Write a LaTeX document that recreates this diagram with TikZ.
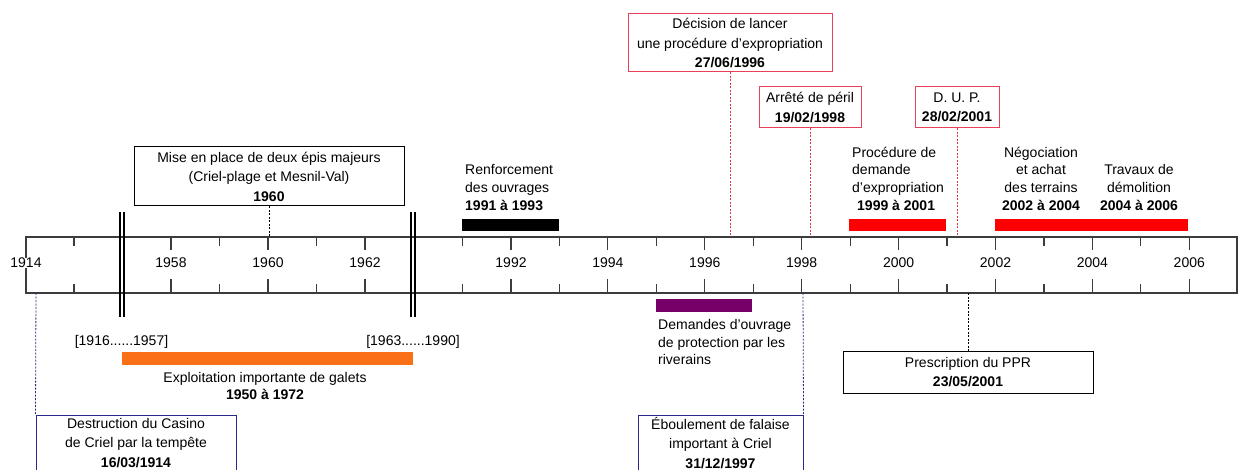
\documentclass[tikz,border=0pt]{standalone}
\usepackage{fontspec}
\setmainfont{Liberation Sans}
\usepackage{tikz}

\definecolor{boxred}{RGB}{232,64,88}
\definecolor{linered}{RGB}{230,50,70}
\definecolor{navy}{RGB}{40,40,140}
\definecolor{plum}{RGB}{118,0,104}
\definecolor{galet}{RGB}{250,112,22}
\definecolor{axisgray}{RGB}{60,60,60}

\tikzset{
  evt/.style={draw, line width=1pt, inner sep=0pt, align=center, font=\fontsize{14}{19.5}\selectfont},
  lbl/.style={inner sep=0pt, font=\fontsize{14}{17.7}\selectfont},
  yr/.style={fill=white, inner sep=0.5pt, font=\fontsize{14}{16}\selectfont},
  axis/.style={draw=axisgray, line width=1.2pt},
  link/.style={dash pattern=on 2pt off 1.5pt, line width=0.8pt},
  brk/.style={line width=2pt},
}

\begin{document}
\begin{tikzpicture}[x=1pt,y=-1pt]
    \useasboundingbox (0,0) rectangle (1238,470);

    % time axis
    \draw[axis] (26,237) rectangle (1237,293);
    \foreach \x in {74,219.5,316.5} {\draw[axis] (\x,237) -- (\x,246) (\x,284) -- (\x,293);}
    \foreach \x in {171,268,365} {\draw[axis] (\x,237) -- (\x,250) (\x,279) -- (\x,293);}
    \foreach \i in {0,...,15} {
        \pgfmathsetmacro\x{462.5+48.45*\i}
        \ifodd\i
            \draw[axis] (\x,237) -- (\x,250) (\x,279) -- (\x,293);
        \else
            \draw[axis] (\x,237) -- (\x,246) (\x,284) -- (\x,293);
        \fi
    }
    \node[yr] (y1914) at (26,263) {1914};
    \foreach \yr/\x in {1958/171,1960/268,1962/365} \node[yr] (y\yr) at (\x,263) {\yr};
    \foreach \yr [count=\k from 0] in {1992,1994,...,2006} \node[yr] (y\yr) at (511+96.9*\k,263) {\yr};

    % breaks
    \draw[brk] (120,212) -- (120,317) (124,212) -- (124,317);
    \draw[brk] (411,212) -- (411,317) (415,212) -- (415,317);

    % periods
    \fill (462,219) rectangle (559,231);
    \fill[red] (849,219) rectangle (946,231);
    \fill[red] (995,219) rectangle (1092,231);
    \fill[red] (1092,219) rectangle (1188,231);
    \fill[plum] (656,299) rectangle (752,312);
    \fill[galet] (122,352) rectangle (413,365);

    \node[lbl, anchor=west, align=left] (renf) at (465,187.5) {Renforcement\\des ouvrages\\\textbf{1991 à 1993}};
    \node[lbl, anchor=west, align=left] (procexp) at (852,178.5) {Procédure de\\demande\\d'expropriation\\\hspace*{5pt}\textbf{1999 à 2001}};
    \node[lbl, align=center] (nego) at (1041,178.5) {Négociation\\et achat\\des terrains\\\textbf{2002 à 2004}};
    \node[lbl, align=center] (demol) at (1139,187.5) {Travaux de\\démolition\\\textbf{2004 à 2006}};
    \node[lbl, anchor=west, align=left] (riv) at (658,342) {Demandes d'ouvrage\\de protection par les\\riverains};
    \node[lbl] (int1) at (121.5,342) {[1916......1957]};
    \node[lbl] (int2) at (413,342) {[1963......1990]};
    \node[lbl, align=center] (galets) at (265,386) {Exploitation importante de galets\\\textbf{1950 à 1972}};

    % events
    \node[evt, minimum width=270pt, minimum height=59pt] (epis) at (269,176.5) {Mise en place de deux épis majeurs\\(Criel-plage et Mesnil-Val)\\\textbf{1960}};
    \node[evt, draw=boxred, minimum width=204pt, minimum height=58pt] (decision) at (730,43) {Décision de lancer\\une procédure d'expropriation\\\textbf{27/06/1996}};
    \node[evt, draw=boxred, minimum width=102pt, minimum height=41pt] (peril) at (810,107.5) {Arrêté de péril\\\textbf{19/02/1998}};
    \node[evt, draw=boxred, minimum width=84pt, minimum height=41pt] (dup) at (957,107.5) {D. U. P.\\\textbf{28/02/2001}};
    \node[evt, minimum width=250pt, minimum height=42pt] (ppr) at (968,372) {Prescription du PPR\\\textbf{23/05/2001}};
    \node[evt, draw=navy, minimum width=200pt, minimum height=56pt] (casino) at (136,443) {Destruction du Casino\\de Criel par la tempête\\\textbf{16/03/1914}};
    \node[evt, draw=navy, minimum width=165pt, minimum height=56pt] (eboul) at (720.5,443) {Éboulement de falaise\\important à Criel\\\textbf{31/12/1997}};

    \coordinate (a1960) at (269,237);
    \coordinate (a1996) at (730,237);
    \coordinate (a1998) at (810,237);
    \coordinate (a2001) at (957,237);
    \coordinate (b2001) at (968,293);
    \coordinate (b1914) at (36,293);
    \coordinate (b1997) at (803,293);
    \draw[link] (epis.south) -- (a1960);
    \draw[link, linered] (decision.south) -- (a1996);
    \draw[link, linered] (peril.south) -- (a1998);
    \draw[link, linered] (dup.south) -- (a2001);
    \draw[link] (b2001) -- (ppr.north);
    \draw[link, navy] (b1914) -- (casino.north west);
    \draw[link, navy] (b1997) -- (eboul.north east);
\end{tikzpicture}
\end{document}
